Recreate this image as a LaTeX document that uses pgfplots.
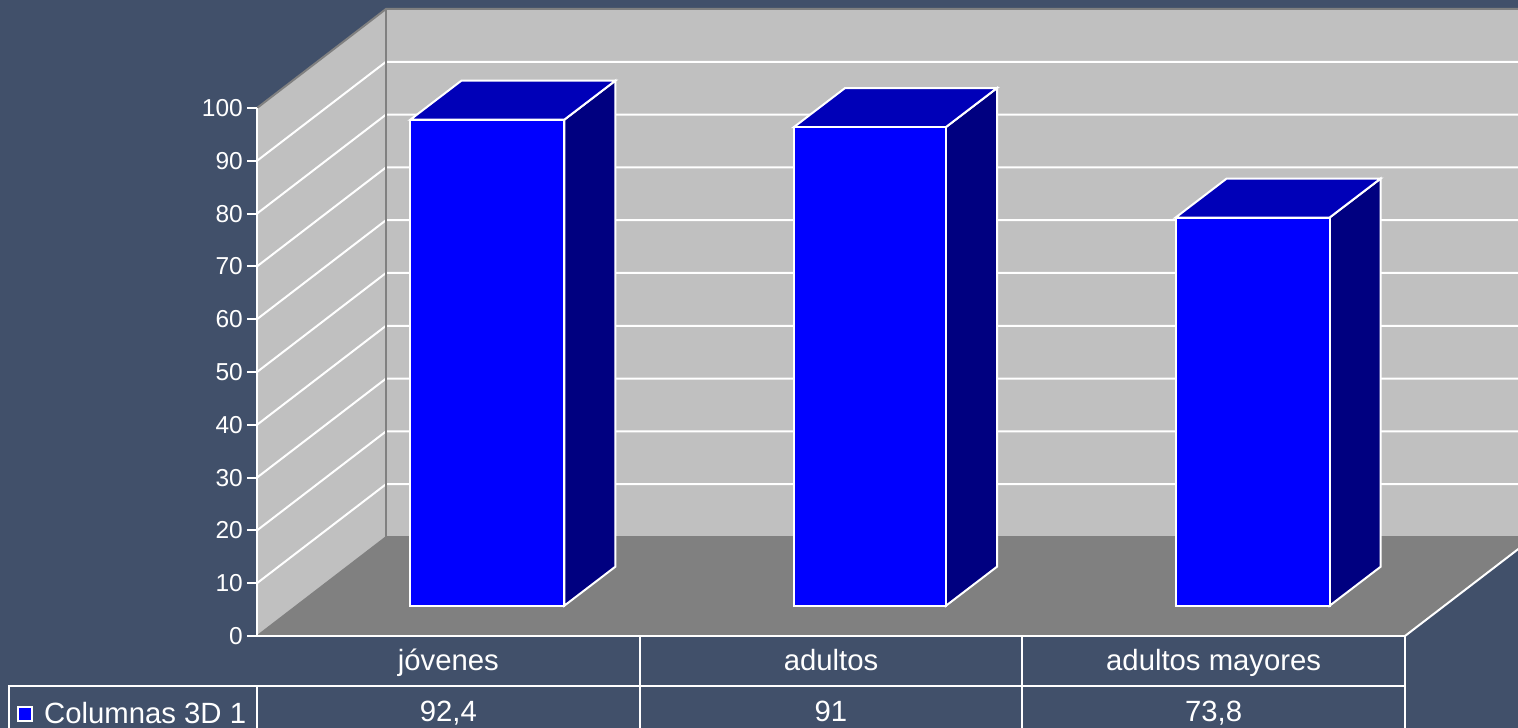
\documentclass[border=0pt]{standalone}
\usepackage{fontspec}
\setmainfont{Liberation Sans}
\usepackage{pgfplots}
\pgfplotsset{compat=1.18}
\definecolor{bg}{RGB}{65,80,106}
\definecolor{wall}{RGB}{192,192,192}
\definecolor{floorgray}{RGB}{128,128,128}
\definecolor{topblue}{RGB}{0,0,184}
\definecolor{sideblue}{RGB}{0,0,128}
\newcommand{\txt}{\fontsize{29.3}{51}\selectfont}
\newcommand{\ticktxt}{\fontsize{24.5}{30}\selectfont}

\begin{document}
\begin{tikzpicture}[x=1pt,y=1pt]
\path[use as bounding box,fill=bg] (0,0) rectangle (1518,728);
\clip (0,0) rectangle (1518,728);

% walls, floor and table in the front plane
\begin{axis}[
  at={(257pt,92pt)},anchor=south west,
  scale only axis,width=1148pt,height=528pt,
  xmin=0,xmax=3,ymin=0,ymax=100,
  clip=false,axis on top,
  axis x line=bottom,axis y line=left,
  axis line style={white,line width=2pt,-},
  ytick={0,10,...,100},
  xtick={0.5,1.5,2.5},
  xticklabels={{jóvenes\\92,4},{adultos\\91},{adultos mayores\\73,8}},
  major tick length=10pt,tick align=outside,
  tick style={white,line width=2pt},
  major x tick style={draw=none},
  /pgf/number format/assume math mode=true,
  y tick label style={font=\ticktxt,text=white,inner xsep=4pt},
  x tick label style={font=\txt,text=white,align=center,inner sep=0pt,yshift=-3pt},
]
\addplot[fill=wall,draw=none] coordinates {(0,0)(0.3371,18.75)(0.3371,118.75)(0,100)} --cycle;
\addplot[fill=wall,draw=none] coordinates {(0.3371,18.75)(3.3371,18.75)(3.3371,118.75)(0.3371,118.75)} --cycle;
\addplot[fill=floorgray,draw=none] coordinates {(0,0)(3,0)(3.3371,18.75)(0.3371,18.75)} --cycle;
\addplot[white,line width=2pt] coordinates {(0,10)(0.3371,28.75)(3.3371,28.75)};
\addplot[white,line width=2pt] coordinates {(0,20)(0.3371,38.75)(3.3371,38.75)};
\addplot[white,line width=2pt] coordinates {(0,30)(0.3371,48.75)(3.3371,48.75)};
\addplot[white,line width=2pt] coordinates {(0,40)(0.3371,58.75)(3.3371,58.75)};
\addplot[white,line width=2pt] coordinates {(0,50)(0.3371,68.75)(3.3371,68.75)};
\addplot[white,line width=2pt] coordinates {(0,60)(0.3371,78.75)(3.3371,78.75)};
\addplot[white,line width=2pt] coordinates {(0,70)(0.3371,88.75)(3.3371,88.75)};
\addplot[white,line width=2pt] coordinates {(0,80)(0.3371,98.75)(3.3371,98.75)};
\addplot[white,line width=2pt] coordinates {(0,90)(0.3371,108.75)(3.3371,108.75)};
\addplot[floorgray,line width=1.5pt] coordinates {(0,0)(0.3371,18.75)(3.3371,18.75)};
\addplot[floorgray,line width=2pt] coordinates {(0,100)(0.3371,118.75)(3.3371,118.75)};
\addplot[floorgray,line width=2.5pt] coordinates {(0.3371,18.75)(0.3371,118.75)};
\addplot[white,line width=2pt] coordinates {(3,0)(3.3371,18.75)};
% table rules
\draw[white,line width=2pt]
  (axis cs:-0.649,-17.6) -- (axis cs:-0.649,-9.47) -- (axis cs:3,-9.47)
  (axis cs:0,-9.47) -- (axis cs:0,-17.6)
  (axis cs:1,0) -- (axis cs:1,-17.6)
  (axis cs:2,0) -- (axis cs:2,-17.6)
  (axis cs:3,0) -- (axis cs:3,-17.6);
\node[anchor=base west,inner sep=0pt,font=\txt,text=white] at (axis cs:-0.5567,-16.53) {Columnas 3D 1};
\node[draw=white,line width=2pt,fill=blue,minimum size=14.5pt,inner sep=0pt] at (axis cs:-0.6062,-14.8) {};
\end{axis}

% bars, set back from the front plane
\begin{axis}[
  at={(296pt,122.3pt)},anchor=south west,
  scale only axis,width=1148pt,height=526pt,
  xmin=0,xmax=3,ymin=0,ymax=100,
  clip=false,hide axis,
]
\addplot[fill=sideblue,draw=white,line width=2pt] coordinates {(0.7012,0)(0.8345,7.41)(0.8345,99.81)(0.7012,92.4)} --cycle;
\addplot[fill=topblue,draw=white,line width=2pt] coordinates {(0.2988,92.4)(0.7012,92.4)(0.8345,99.81)(0.4321,99.81)} --cycle;
\addplot[fill=sideblue,draw=white,line width=2pt] coordinates {(1.6986,0)(1.8319,7.41)(1.8319,98.41)(1.6986,91)} --cycle;
\addplot[fill=topblue,draw=white,line width=2pt] coordinates {(1.3014,91)(1.6986,91)(1.8319,98.41)(1.4347,98.41)} --cycle;
\addplot[fill=sideblue,draw=white,line width=2pt] coordinates {(2.7012,0)(2.8345,7.41)(2.8345,81.21)(2.7012,73.8)} --cycle;
\addplot[fill=topblue,draw=white,line width=2pt] coordinates {(2.2988,73.8)(2.7012,73.8)(2.8345,81.21)(2.4321,81.21)} --cycle;
\addplot[ybar,bar width=154pt,bar shift=0pt,fill=blue,draw=white,line width=2pt] coordinates {(0.5,92.4)};
\addplot[ybar,bar width=152pt,bar shift=0pt,fill=blue,draw=white,line width=2pt] coordinates {(1.5,91)};
\addplot[ybar,bar width=154pt,bar shift=0pt,fill=blue,draw=white,line width=2pt] coordinates {(2.5,73.8)};
\end{axis}
\end{tikzpicture}
\end{document}
